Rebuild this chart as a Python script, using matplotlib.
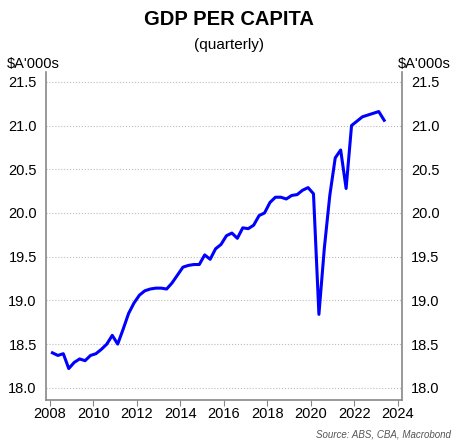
import matplotlib
matplotlib.use("Agg")
import matplotlib.pyplot as plt
import numpy as np

plt.rcParams['font.family'] = ['Liberation Sans', 'DejaVu Sans']

start_year = 2008.125
gdp = [18.40, 18.37, 18.39, 18.22, 18.29, 18.33, 18.31, 18.37,
       18.39, 18.44, 18.50, 18.60, 18.50, 18.67, 18.85, 18.97,
       19.06, 19.11, 19.13, 19.14, 19.14, 19.13, 19.20, 19.29,
       19.38, 19.40, 19.41, 19.41, 19.52, 19.47, 19.59, 19.64,
       19.74, 19.77, 19.71, 19.83, 19.82, 19.86, 19.97, 20.00,
       20.12, 20.18, 20.18, 20.16, 20.20, 20.21, 20.26, 20.29,
       20.22, 18.84, 19.60, 20.20, 20.63, 20.72, 20.28, 21.00,
       21.05, 21.10, 21.12, 21.14, 21.16, 21.06]
yticks = [18.0, 18.5, 19.0, 19.5, 20.0, 20.5, 21.0, 21.5]
xticks = list(range(2008, 2025, 2))

t = start_year + 0.25 * np.arange(len(gdp))

fig = plt.figure(figsize=(4.58, 4.43), dpi=100)
ax = fig.add_axes([0.100, 0.097, 0.778, 0.740])
ax.plot(t, gdp, color='#0000ff', lw=2.2)
ax.set_xlim(2007.82, 2024.2)
ax.set_ylim(17.86, 21.61)
ax.set_yticks(yticks)
ax.set_yticklabels([f"{v:.1f}" for v in yticks])
ax.set_xticks(xticks)
ax.yaxis.grid(True, ls=':', color='#bbbbbb', lw=0.8)
ax.tick_params(axis='y', left=False, right=False, labelright=True, labelsize=10.5, pad=3)
ax.tick_params(axis='x', direction='out', length=4, color='#888888', labelsize=10.5, pad=1)
ax.spines['top'].set_visible(False)
for s in ['left', 'right', 'bottom']:
    ax.spines[s].set_color('#888888')
    ax.spines[s].set_linewidth(1.2)

fig.text(0.5, 0.955, "GDP PER CAPITA", ha='center', va='center', fontsize=14.5, fontweight='bold')
fig.text(0.5, 0.898, "(quarterly)", ha='center', va='center', fontsize=11)
fig.text(0.015, 0.855, "$A'000s", ha='left', va='center', fontsize=10.5)
fig.text(0.985, 0.855, "$A'000s", ha='right', va='center', fontsize=10.5)
fig.text(0.985, 0.020, "Source: ABS, CBA, Macrobond", ha='right', va='center', fontsize=7, style='italic', color='#555555')

fig.savefig("out.png", dpi=100)
